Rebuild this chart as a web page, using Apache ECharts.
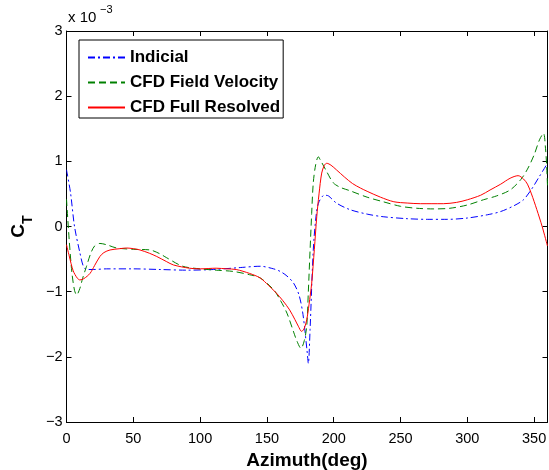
<!DOCTYPE html>
<html>
<head>
<meta charset="utf-8">
<script src="https://cdn.jsdelivr.net/npm/echarts@6/dist/echarts.min.js"></script>
<style>html,body{margin:0;padding:0;background:#fff}#c{width:549px;height:470px}</style>
</head>
<body>
<div id="c"></div>
<script>
// Azimuth (deg) and C_T (x 1e-3)
var indicialX = [0, 3, 6, 10, 12.6, 15, 20, 30, 50, 70, 90, 110, 130, 145, 155, 160, 165, 170, 174, 177, 180, 181, 182.3, 184.7, 187, 189, 193, 196, 202, 212, 225, 237, 255, 270, 285, 300, 315, 325, 335, 342, 348, 354, 360];
var indicialY = [0.87, 0.52, 0.0, -0.4, -0.61, -0.66, -0.66, -0.65, -0.65, -0.66, -0.67, -0.66, -0.63, -0.61, -0.65, -0.69, -0.76, -0.87, -1.05, -1.35, -1.9, -2.1, -1.58, -0.36, 0.2, 0.38, 0.48, 0.47, 0.36, 0.26, 0.19, 0.15, 0.12, 0.11, 0.11, 0.13, 0.18, 0.23, 0.32, 0.41, 0.57, 0.77, 0.97];

var fieldX = [0, 2, 4, 6, 7.6, 10, 12, 15, 18, 21, 25, 30, 37.6, 50, 62.5, 70, 75, 87, 100, 112, 125, 137, 145, 155, 160, 165, 170, 172.5, 175.5, 178, 179.8, 181, 182.3, 183.5, 184.7, 186.5, 188.5, 190, 194.8, 199.7, 205, 212, 225, 237, 250, 262, 275, 287, 300, 312, 322, 332, 340, 345, 350, 354, 357, 358.5, 359.4, 360];
var fieldY = [0.42, -0.2, -0.7, -0.98, -1.05, -0.95, -0.8, -0.61, -0.42, -0.3, -0.26, -0.28, -0.33, -0.35, -0.36, -0.42, -0.48, -0.61, -0.65, -0.67, -0.69, -0.74, -0.79, -0.97, -1.13, -1.33, -1.62, -1.76, -1.87, -1.75, -1.53, -1.0, -0.36, 0.2, 0.67, 0.95, 1.07, 1.02, 0.84, 0.67, 0.6, 0.55, 0.45, 0.38, 0.31, 0.28, 0.27, 0.28, 0.33, 0.41, 0.47, 0.56, 0.72, 0.88, 1.1, 1.33, 1.43, 1.2, 0.92, 0.62];

var fullX = [0, 2, 5, 8, 10, 13, 17.6, 21, 25, 28, 32.6, 40, 45, 50, 55, 62, 67.5, 75, 80, 92, 100, 112, 120, 127, 137, 145, 151, 157, 162, 167, 171, 173.5, 176, 178, 179.8, 181.5, 183.5, 185.5, 187.3, 189, 191, 193, 194.8, 198, 202, 208, 214, 220, 225, 235, 245, 255, 265, 282, 292, 300, 310, 317, 325, 332, 338, 342, 345, 348, 352, 356, 360];
var fullY = [-0.28, -0.45, -0.68, -0.79, -0.82, -0.8, -0.72, -0.6, -0.46, -0.4, -0.36, -0.34, -0.33, -0.34, -0.36, -0.41, -0.46, -0.54, -0.59, -0.64, -0.65, -0.64, -0.65, -0.66, -0.72, -0.79, -0.9, -1.02, -1.14, -1.28, -1.43, -1.53, -1.61, -1.56, -1.43, -1.2, -0.87, -0.35, 0.15, 0.5, 0.82, 0.94, 0.97, 0.94, 0.87, 0.76, 0.66, 0.59, 0.54, 0.45, 0.38, 0.36, 0.35, 0.35, 0.37, 0.41, 0.48, 0.56, 0.65, 0.74, 0.78, 0.73, 0.65, 0.5, 0.26, 0.0, -0.3];

var seriesNames = ['Indicial', 'CFD Field Velocity', 'CFD Full Resolved'];

function pairs(xs, ys) { return xs.map(function (x, i) { return [x, ys[i]]; }); }

var FONT = '"Liberation Sans", Arial, Helvetica, sans-serif';
var minusFmt = function (v) { return String(v).replace('-', '\u2212'); };

var chart = echarts.init(document.getElementById('c'), null, { renderer: 'canvas' });
var axisLineStyle = { color: '#000', width: 1 };
chart.setOption({
  animation: false,
  backgroundColor: '#fff',
  textStyle: { fontFamily: FONT },
  grid: { left: 66.5, right: 1.5, top: 31, bottom: 48, containLabel: false, outerBoundsMode: 'none' },
  legend: {
    orient: 'vertical',
    left: 79, top: 40,
    padding: [9, 3, 2, 8],
    itemWidth: 37, itemHeight: 14, itemGap: 8,
    borderColor: '#000', borderWidth: 1, backgroundColor: '#fff',
    itemStyle: { opacity: 0 },
    textStyle: { fontFamily: FONT, fontSize: 17, fontWeight: 'bold', color: '#000' },
    data: seriesNames
  },
  xAxis: [{
    type: 'value', position: 'bottom', min: 0, max: 360, interval: 50,
    axisLine: { show: true, onZero: false, lineStyle: axisLineStyle },
    axisTick: { show: true, inside: true, length: 5, lineStyle: axisLineStyle },
    splitLine: { show: false },
    axisLabel: { color: '#000', fontSize: 14.5, fontFamily: FONT, margin: 9, showMaxLabel: false },
    name: 'Azimuth(deg)', nameLocation: 'middle', nameGap: 25,
    nameTextStyle: { color: '#000', fontSize: 19, fontWeight: 'bold', fontFamily: FONT }
  }, {
    type: 'value', position: 'top', min: 0, max: 360, interval: 50,
    axisLine: { show: true, onZero: false, lineStyle: axisLineStyle },
    axisTick: { show: true, inside: true, length: 5, lineStyle: axisLineStyle },
    splitLine: { show: false }, axisLabel: { show: false }
  }],
  yAxis: [{
    type: 'value', position: 'left', min: -3, max: 3, interval: 1,
    axisLine: { show: true, onZero: false, lineStyle: axisLineStyle },
    axisTick: { show: true, inside: true, length: 5, lineStyle: axisLineStyle },
    splitLine: { show: false },
    axisLabel: { color: '#000', fontSize: 14.5, fontFamily: FONT, margin: 4, formatter: minusFmt },
    name: '{c|C}{t|T}', nameLocation: 'middle', nameRotate: 90, nameGap: 33,
    nameTextStyle: {
      rich: {
        c: { fontSize: 19, fontWeight: 'bold', color: '#000', fontFamily: FONT, verticalAlign: 'bottom' },
        t: { fontSize: 14, fontWeight: 'bold', color: '#000', fontFamily: FONT, verticalAlign: 'bottom', padding: [0, 0, -7, 0] }
      }
    }
  }, {
    type: 'value', position: 'right', min: -3, max: 3, interval: 1,
    axisLine: { show: true, onZero: false, lineStyle: axisLineStyle },
    axisTick: { show: true, inside: true, length: 5, lineStyle: axisLineStyle },
    splitLine: { show: false }, axisLabel: { show: false }
  }],
  graphic: [
    { type: 'text', left: 68, top: 10, style: { text: 'x 10', font: '15px ' + FONT, fill: '#000' } },
    { type: 'text', left: 100, top: 4, style: { text: '\u22123', font: '11px ' + FONT, fill: '#000' } }
  ],
  series: [{
    name: seriesNames[0], type: 'line', data: pairs(indicialX, indicialY),
    showSymbol: false, symbol: 'none', smooth: 0.3,
    lineStyle: { color: '#0000ff', width: 1, type: [7, 3, 2, 3] }, itemStyle: { color: '#0000ff' }
  }, {
    name: seriesNames[1], type: 'line', data: pairs(fieldX, fieldY),
    showSymbol: false, symbol: 'none', smooth: 0.3,
    lineStyle: { color: '#008000', width: 1, type: [7, 4] }, itemStyle: { color: '#008000' }
  }, {
    name: seriesNames[2], type: 'line', data: pairs(fullX, fullY),
    showSymbol: false, symbol: 'none', smooth: 0.3,
    lineStyle: { color: '#ff0000', width: 1, type: 'solid' }, itemStyle: { color: '#ff0000' }
  }]
});
</script>
</body>
</html>
